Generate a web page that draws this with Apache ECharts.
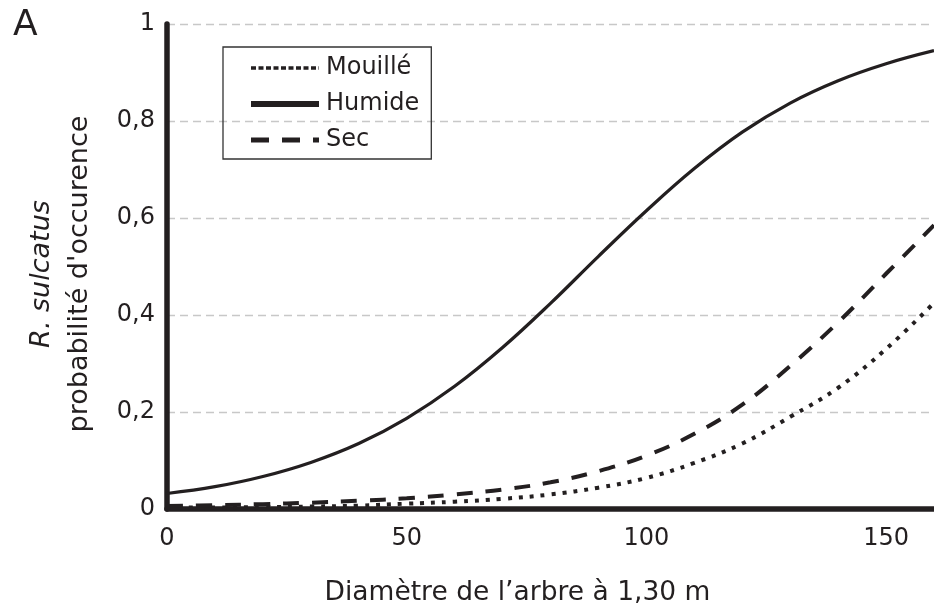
<!DOCTYPE html>
<html>
<head>
<meta charset="utf-8">
<script src="https://cdn.jsdelivr.net/npm/echarts@6/dist/echarts.min.js"></script>
<style>
html,body{margin:0;padding:0;background:#fff;}
#chart{width:934px;height:604px;}
</style>
</head>
<body>
<div id="chart"></div>
<script>
// Diameter values (x) and read-off probabilities
const xValues = [0, 10, 20, 30, 40, 50, 60, 70, 80, 90, 100, 110, 120, 130, 140, 150, 160];
const humide  = [0.032, 0.046, 0.067, 0.096, 0.135, 0.187, 0.253, 0.333, 0.424, 0.521, 0.615, 0.702, 0.777, 0.837, 0.883, 0.918, 0.945];
const sec     = [0.006, 0.008, 0.010, 0.013, 0.017, 0.022, 0.030, 0.040, 0.055, 0.078, 0.110, 0.155, 0.215, 0.295, 0.385, 0.485, 0.585];
const mouille = [0.003, 0.003, 0.004, 0.005, 0.007, 0.011, 0.015, 0.021, 0.030, 0.044, 0.064, 0.095, 0.135, 0.190, 0.250, 0.330, 0.425];
const seriesNames = ['Mouillé', 'Humide', 'Sec'];
const yTickValues = [0, 0.2, 0.4, 0.6, 0.8, 1];
const yTickLabels = ['0', '0,2', '0,4', '0,6', '0,8', '1'];
const xTickValues = [0, 50, 100, 150];
const xTickLabels = ['0', '50', '100', '150'];

const FONT = 'DejaVu Sans';
const INK = '#231f20';

function pairs(ys) { return xValues.map((x, i) => [x, ys[i]]); }

const chart = echarts.init(document.getElementById('chart'));
chart.setOption({
  animation: false,
  backgroundColor: '#fff',
  grid: { left: 167, right: 0, top: 24, bottom: 95, containLabel: false, outerBoundsMode: 'none' },
  xAxis: {
    type: 'value', min: 0, max: 160, interval: 50,
    name: 'Diamètre de l’arbre à 1,30 m',
    nameLocation: 'middle', nameGap: 71,
    nameTextStyle: { fontFamily: FONT, fontSize: 26.5, color: INK, padding: [0, 66, 0, 0] },
    axisLine: { show: true, onZero: false, lineStyle: { color: INK, width: 5.5 } },
    axisTick: { show: false },
    splitLine: { show: false },
    axisLabel: {
      fontFamily: FONT, fontSize: 24, color: INK, margin: 18,
      showMaxLabel: false,
      formatter: v => { const i = xTickValues.indexOf(v); return i >= 0 ? xTickLabels[i] : ''; }
    }
  },
  yAxis: {
    type: 'value', min: 0, max: 1, interval: 0.2,
    axisLine: { show: true, lineStyle: { color: INK, width: 5.5 } },
    axisTick: { show: false },
    splitLine: { show: true, lineStyle: { color: '#c8c8c8', width: 1.3, type: [8, 5] } },
    axisLabel: {
      fontFamily: FONT, fontSize: 24, color: INK, margin: 12,
      formatter: v => {
        const i = yTickValues.findIndex(t => Math.abs(t - v) < 1e-9);
        return i >= 0 ? yTickLabels[i] : '';
      }
    }
  },
  legend: {
    orient: 'vertical', left: 223, top: 47,
    padding: [9, 12, 7, 25],
    borderColor: '#333', borderWidth: 1.3,
    itemGap: 12, itemWidth: 68, itemHeight: 14,
    textStyle: { fontFamily: FONT, fontSize: 24, color: INK, padding: [0, 0, 0, 2] },
    data: [
      { name: seriesNames[0], itemStyle: { opacity: 0 }, lineStyle: { width: 3.5, type: [5, 2.5] } },
      { name: seriesNames[1], itemStyle: { opacity: 0 }, lineStyle: { width: 6 } },
      { name: seriesNames[2], itemStyle: { opacity: 0 }, lineStyle: { width: 5, type: [18, 13] } }
    ]
  },
  graphic: [
    {
      type: 'text', left: 13, top: 8,
      style: { text: 'A', fontFamily: FONT, fontSize: 36, fill: INK }
    },
    {
      type: 'text', x: 61, y: 274, rotation: Math.PI / 2,
      style: {
        text: '{a|R. sulcatus}\n{b|probabilité d\'occurence}',
        align: 'center', verticalAlign: 'middle',
        fill: INK,
        rich: {
          a: { fontFamily: FONT, fontSize: 27, fontStyle: 'italic', lineHeight: 38, fill: INK, align: 'center' },
          b: { fontFamily: FONT, fontSize: 27, lineHeight: 38, fill: INK, align: 'center' }
        }
      }
    }
  ],
  series: [
    {
      name: seriesNames[0], type: 'line', data: pairs(mouille),
      smooth: 0.4, symbol: 'none', showSymbol: false,
      lineStyle: { color: INK, width: 4, type: [4, 7] },
      itemStyle: { color: INK }, z: 3
    },
    {
      name: seriesNames[1], type: 'line', data: pairs(humide),
      smooth: 0.4, symbol: 'none', showSymbol: false,
      lineStyle: { color: INK, width: 3.2 },
      itemStyle: { color: INK }, z: 3
    },
    {
      name: seriesNames[2], type: 'line', data: pairs(sec),
      smooth: 0.4, symbol: 'none', showSymbol: false,
      lineStyle: { color: INK, width: 4, type: [16, 13] },
      itemStyle: { color: INK }, z: 3
    }
  ]
});
</script>
</body>
</html>
